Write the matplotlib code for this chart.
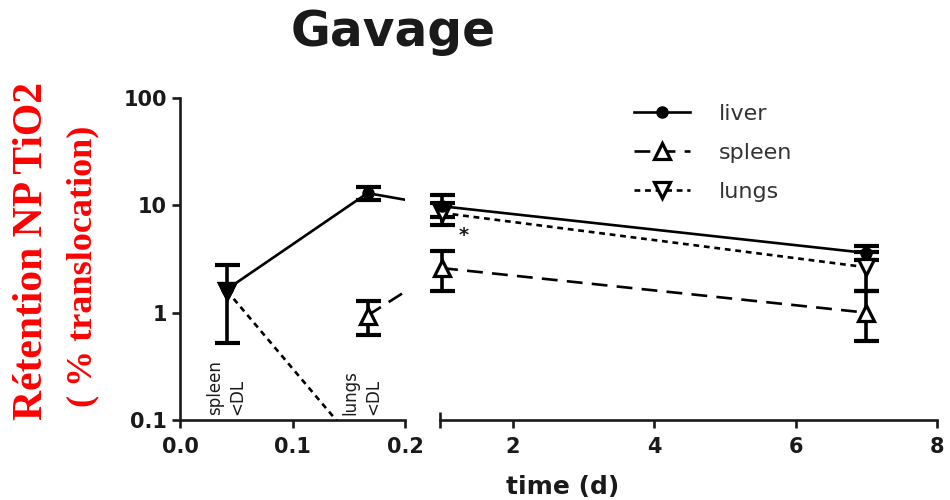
import numpy as np
import matplotlib
matplotlib.use("Agg")
import matplotlib.pyplot as plt
from matplotlib.transforms import blended_transform_factory

# 1. DATA
t_early = [1 / 24, 4 / 24]          # days (1 h, 4 h)
t_late = [1, 7]                     # days

liver_early = [1.65, 13.0]
liver_early_lo = [0.52, 11.3]
liver_early_hi = [2.8, 14.7]
liver_late = [9.8, 3.6]
liver_late_lo = [7.8, 3.1]
liver_late_hi = [12.5, 4.2]

spleen_early = [np.nan, 0.94]       # 1 h below detection limit
spleen_early_lo = [np.nan, 0.62]
spleen_early_hi = [np.nan, 1.29]
spleen_late = [2.6, 1.0]
spleen_late_lo = [1.6, 0.55]
spleen_late_hi = [3.75, 1.6]

lungs_early = [1.6, 0.045]          # 4 h below detection limit (off the axis)
lungs_late = [8.5, 2.65]
lungs_late_lo = [6.6, 1.6]
lungs_late_hi = [10.5, 3.7]

ytick_vals = [0.1, 1, 10, 100]
ytick_labels = ["0.1", "1", "10", "100"]
xl_ticks = [0.0, 0.1, 0.2]
xl_labels = ["0.0", "0.1", "0.2"]
xr_ticks = [2, 4, 6, 8]
xr_labels = ["2", "4", "6", "8"]

INK = "#1a1a1a"
SANS = "DejaVu Sans"

# 2. FIGURE WITH BROKEN X AXIS
fig = plt.figure(figsize=(9.5, 5), dpi=100)
axL = fig.add_axes([180 / 950, 0.16, 225 / 950, 0.644])
axR = fig.add_axes([440 / 950, 0.16, 497 / 950, 0.644])

for ax in (axL, axR):
    ax.set_yscale("log")
    ax.set_ylim(0.1, 100)
    ax.patch.set_alpha(0)
    for s in ("top", "right"):
        ax.spines[s].set_visible(False)
    for s in ("left", "bottom"):
        ax.spines[s].set_linewidth(1.9)
        ax.spines[s].set_color(INK)
    ax.tick_params(width=1.9, length=6, color=INK, labelcolor=INK,
                   labelsize=15, direction="out")
    ax.yaxis.set_minor_locator(matplotlib.ticker.NullLocator())

axL.set_xlim(0, 0.2)
axR.set_xlim(0.97, 8)

axL.set_yticks(ytick_vals, ytick_labels, fontweight="bold", fontfamily=SANS)
axL.set_xticks(xl_ticks, xl_labels, fontweight="bold", fontfamily=SANS)
axL.xaxis.set_minor_locator(matplotlib.ticker.FixedLocator([0.2]))
axL.tick_params(axis="x", which="minor", direction="inout", length=12,
                width=1.9, color=INK)
axL.tick_params(axis="x", pad=6)

axR.spines["left"].set_visible(False)
axR.set_yticks([])
axR.set_xticks(xr_ticks, xr_labels, fontweight="bold", fontfamily=SANS)
axR.xaxis.set_minor_locator(matplotlib.ticker.FixedLocator([0.97, 8]))
axR.tick_params(axis="x", which="minor", direction="inout", length=12,
                width=1.9, color=INK)
axR.tick_params(axis="x", pad=6)

# 3. STYLES
liver_kw = dict(color="black", linestyle="-", linewidth=1.9, marker="o",
                markersize=8, markerfacecolor="black")
spleen_kw = dict(color="black", linestyle=(0, (6, 3.5)), linewidth=1.9,
                 marker="^", markersize=11, markerfacecolor="white",
                 markeredgewidth=2.3)
lungs_kw = dict(color="black", linestyle=(0, (2.2, 1.8)), linewidth=1.9,
                marker="v", markersize=11, markerfacecolor="white",
                markeredgewidth=2.3)
err_kw = dict(fmt="none", ecolor="black", elinewidth=2.6, capsize=9,
              capthick=3, zorder=2)


def yerr(v, lo, hi):
    v, lo, hi = map(np.array, (v, lo, hi))
    return [v - lo, hi - v]


# 4. LEFT PANEL (hours)
# lines heading towards the day-1 points, cut at the axis break
def to_left(x, y):
    disp = axR.transData.transform((x, y))
    return axL.transData.inverted().transform(disp)


xv, yv = to_left(t_late[0], liver_late[0])
axL.plot([t_early[1], xv], [liver_early[1], yv], color="black", lw=1.9)
xv, yv = to_left(t_late[0], spleen_late[0])
axL.plot([t_early[1], xv], [spleen_early[1], yv], color="black", lw=1.9,
         linestyle=(0, (6, 3.5)))

axL.errorbar(t_early, liver_early,
             yerr=yerr(liver_early, liver_early_lo, liver_early_hi), **err_kw)
axL.errorbar(t_early, spleen_early,
             yerr=yerr(spleen_early, spleen_early_lo, spleen_early_hi), **err_kw)
axL.plot(t_early, lungs_early, **lungs_kw, zorder=3)
axL.plot(t_early, liver_early, **liver_kw, zorder=4)
axL.plot(t_early, spleen_early, **spleen_kw, zorder=4)
axL.plot(t_early[:1], lungs_early[:1], **{**lungs_kw, "markerfacecolor": "black"},
         zorder=5)

# below-detection-limit notes
bt = blended_transform_factory(axL.transData, axL.transAxes)
axL.text(0.041, 0.015, "spleen\n<DL", transform=bt, rotation=90, ha="center",
         va="bottom", multialignment="left", fontsize=12, color=INK,
         linespacing=1.35, fontfamily=SANS)
axL.text(0.162, 0.015, "lungs\n<DL", transform=bt, rotation=90, ha="center",
         va="bottom", multialignment="left", fontsize=12, color=INK,
         linespacing=1.35, fontfamily=SANS)

# 5. RIGHT PANEL (days)
for v, lo, hi in ((liver_late, liver_late_lo, liver_late_hi),
                  (spleen_late, spleen_late_lo, spleen_late_hi),
                  (lungs_late, lungs_late_lo, lungs_late_hi)):
    eb = axR.errorbar(t_late, v, yerr=yerr(v, lo, hi), **err_kw)
    for art in eb.lines[1] + eb.lines[2]:
        art.set_clip_on(False)
h_liver, = axR.plot(t_late, liver_late, label="liver", **liver_kw, zorder=4,
                    clip_on=False)
h_spleen, = axR.plot(t_late, spleen_late, label="spleen", **spleen_kw,
                     zorder=4, clip_on=False)
h_lungs, = axR.plot(t_late, lungs_late, label="lungs", **lungs_kw, zorder=3,
                    clip_on=False)
axR.text(1.3, 5.2, "*", fontsize=14, ha="center", va="center", color=INK,
         fontweight="bold")

# 6. LEGEND, LABELS, TITLE
leg = fig.legend(handles=[h_liver, h_spleen, h_lungs], loc="upper left",
                 bbox_to_anchor=(634 / 950, 1 - 104 / 500), frameon=False,
                 fontsize=16, handlelength=2.5, handletextpad=1.3,
                 labelspacing=0.85, borderpad=0, borderaxespad=0)
for txt in leg.get_texts():
    txt.set_color("#333333")
    txt.set_fontfamily(SANS)

fig.text(563 / 950, 1 - 487 / 500, "time (d)", ha="center", va="center",
         fontsize=18, fontweight="bold", color=INK, fontfamily=SANS)
fig.text(393 / 950, 1 - 32 / 500, "Gavage", ha="center", va="center",
         fontsize=35, fontweight="bold", color=INK, fontfamily=SANS)

fig.text(32 / 950, 1 - 251 / 500, "Rétention NP TiO2", rotation=90,
         ha="center", va="center", color="red", fontsize=30,
         fontweight="bold", fontfamily="Liberation Serif")
fig.text(83 / 950, 1 - 266 / 500, "( % translocation)", rotation=90,
         ha="center", va="center", color="red", fontsize=26,
         fontweight="bold", fontfamily="Liberation Serif")

fig.savefig("out.png", dpi=100)
